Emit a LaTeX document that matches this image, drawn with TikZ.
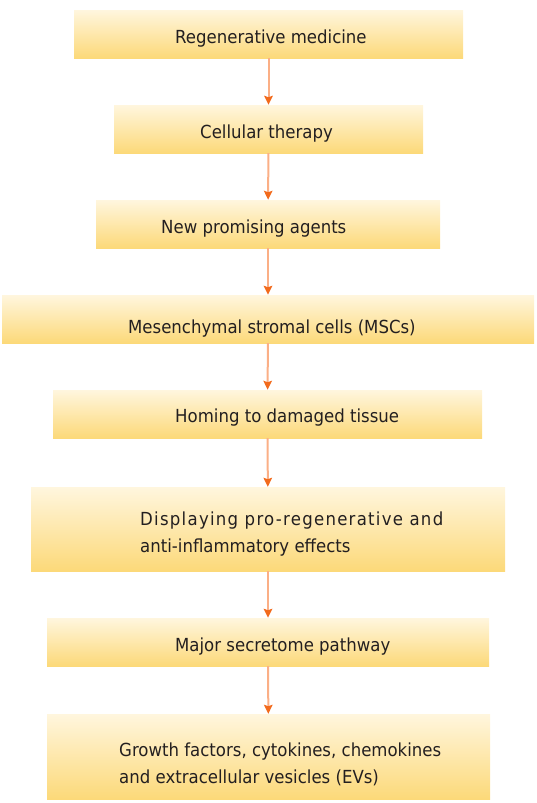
\documentclass[tikz,border=0pt]{standalone}
\usepackage{fontspec}
\setmainfont{DejaVu Sans}[FakeStretch=0.92]
\usetikzlibrary{arrows.meta,positioning}
\definecolor{boxtop}{HTML}{FFF6DE}
\definecolor{boxbot}{HTML}{FCD979}
\definecolor{lineor}{HTML}{FBAF86}
\definecolor{tipor}{HTML}{F26A1C}
\definecolor{txt}{HTML}{231F20}
\tikzset{
  stage/.style={shading=axis, top color=boxtop, bottom color=boxbot,
    minimum height=48pt, inner sep=0pt},
  caption/.style={anchor=base west, inner sep=0pt, text=txt, align=left,
    font=\fontsize{18}{27}\selectfont},
  flow/.style={draw=lineor, line width=2pt,
    -{Stealth[length=9pt,width=8.5pt,inset=1.5pt,color=tipor]}}
}
\begin{document}
\begin{tikzpicture}[x=1pt,y=-1pt]
   \useasboundingbox (0,0) rectangle (536,803);
   % boxes
   \node[stage, minimum width=389pt] (rm)  at (268.5,34) {};
   \node[stage, minimum width=309pt] (ct)  at (268.5,129) {};
   \node[stage, minimum width=344pt] (npa) at (268,224) {};
   \node[stage, minimum width=532pt] (msc) at (268,319) {};
   \node[stage, minimum width=429pt] (hom) at (267.5,414) {};
   \node[stage, minimum width=474pt, minimum height=84pt] (dis) at (268,529) {};
   \node[stage, minimum width=442pt] (sec) at (268,642) {};
   \node[stage, minimum width=443pt, minimum height=85pt] (gf) at (268.5,756.5) {};
   % texts (base of the last line)
   \node[caption] (rm-t)  at (175,43)  {Regenerative medicine};
   \node[caption] (ct-t)  at (200,138) {Cellular therapy};
   \node[caption] (npa-t) at (161,233) {New promising agents};
   \node[caption] (msc-t) at (128,333) {Mesenchymal stromal cells (MSCs)};
   \node[caption] (hom-t) at (175,422) {Homing to damaged tissue};
   \node[caption] (dis-t) at (140,552) {{\addfontfeature{LetterSpace=7}Displaying pro-regenerative and}\\anti-inflammatory effects};
   \node[caption] (sec-t) at (175,651) {Major secretome pathway};
   \node[caption] (gf-t)  at (119,783) {Growth factors, cytokines, chemokines\\and extracellular vesicles (EVs)};
   % arrows
   \path[flow]
    (rm)  edge (ct)
    (ct)  edge (npa)
    (npa) edge (msc)
    (msc) edge (hom)
    (hom) edge (dis)
    (dis) edge (sec)
    (sec) edge (gf);
\end{tikzpicture}
\end{document}
